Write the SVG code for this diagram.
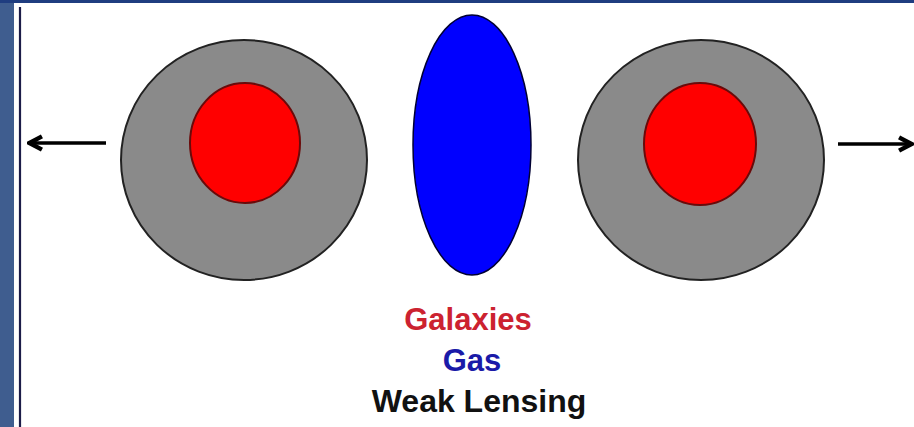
<svg xmlns="http://www.w3.org/2000/svg" width="914" height="427" viewBox="0 0 914 427">
<defs>
<style>
.halo{fill:#8a8a8a;stroke:#222;stroke-width:2}
.core{fill:#ff0000;stroke:#6a0a0a;stroke-width:2}
.lbl{font-family:"Liberation Sans",Arial,sans-serif;font-weight:bold;font-size:31px;text-anchor:middle}
.arr{stroke:#000;stroke-width:3.5;fill:none}
</style>
<marker id="ah" viewBox="0 0 12 12" refX="9" refY="6" markerWidth="5" markerHeight="5" orient="auto-start-reverse" markerUnits="strokeWidth">
<path d="M1.5,1.5 L10,6 L1.5,10.5" fill="none" stroke="#000" stroke-width="3"/>
</marker>
</defs>
<rect x="0" y="0" width="914" height="427" fill="#ffffff"/>
<rect x="0" y="0" width="14" height="427" fill="#3f5d8f"/>
<rect x="0" y="0" width="914" height="3" fill="#1f3d80"/>
<line x1="20" y1="7" x2="20" y2="427" stroke="#1c1c48" stroke-width="2.2"/>
<g id="galaxy-left">
<ellipse class="halo" cx="244" cy="160" rx="123" ry="120"/>
<ellipse class="core" cx="245" cy="143" rx="55" ry="60"/>
</g>
<g id="gas">
<ellipse cx="472" cy="145" rx="59" ry="130" fill="#0000ff" stroke="#000033" stroke-width="1.5"/>
</g>
<g id="galaxy-right">
<ellipse class="halo" cx="701" cy="160" rx="123" ry="120"/>
<ellipse class="core" cx="700" cy="144" rx="56" ry="61"/>
</g>
<g id="connectors">
<line class="arr" x1="106" y1="143" x2="31" y2="143" marker-end="url(#ah)"/>
<line class="arr" x1="838" y1="144" x2="910" y2="144" marker-end="url(#ah)"/>
</g>
<g id="legend">
<text class="lbl" x="468" y="330" fill="#cc2230">Galaxies</text>
<text class="lbl" x="472" y="371" fill="#1a1aa8">Gas</text>
<text class="lbl" x="479" y="412" fill="#111111" style="font-size:32px">Weak Lensing</text>
</g>
</svg>
